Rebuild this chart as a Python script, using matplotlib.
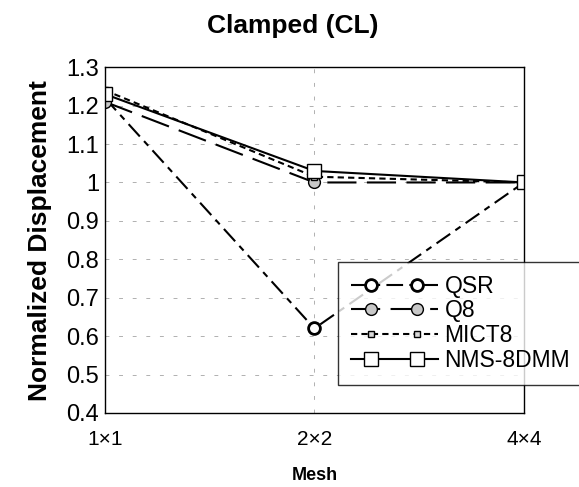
import matplotlib
matplotlib.use("Agg")
import numpy as np
import matplotlib.pyplot as plt
from matplotlib.legend_handler import HandlerLine2DCompound

plt.rcParams['font.family'] = ['Liberation Sans', 'DejaVu Sans']

meshes = ["1\u00d71", "2\u00d72", "4\u00d74"]
qsr = [1.22, 0.62, 1.0]
q8 = [1.21, 1.0, 1.0]
mict8 = [1.24, 1.015, 1.0]
nms = [1.23, 1.03, 1.0]

x = list(range(len(meshes)))


class InsetMarkers(HandlerLine2DCompound):
    # line spans the whole handle, the two markers sit a bit inside it
    def get_xdata(self, legend, xdescent, ydescent, width, height, fontsize):
        pad = 0.9 * fontsize
        xline = np.linspace(-xdescent, -xdescent + width, 2)
        xmark = np.linspace(-xdescent + pad, -xdescent + width - pad, 2)
        return xline, xmark


fig = plt.figure(figsize=(5.79, 4.87), dpi=100)
ax = fig.add_axes([0.181, 0.152, 0.724, 0.710])

ax.plot(x, qsr, color="black", lw=1.5, ls=(0, (8, 3, 3, 3)),
        marker="o", ms=8.5, mfc="white", mec="black", mew=2, label="QSR")
ax.plot(x, q8, color="black", lw=1.5, ls=(0, (14, 5)),
        marker="o", ms=8.5, mfc="#c8c8c8", mec="black", mew=1, label="Q8")
ax.plot(x, mict8, color="black", lw=1.5, ls=(0, (3, 2)),
        marker="s", ms=5, mfc="#d8d8d8", mec="black", mew=1, label="MICT8")
ax.plot(x, nms, color="black", lw=1.5, ls="-",
        marker="s", ms=10, mfc="white", mec="black", mew=1, label="NMS-8DMM")

ax.set_xlim(0, 2)
ax.set_ylim(0.4, 1.3)
ax.set_xticks(x)
ax.set_xticklabels(meshes, fontsize=15)
ax.set_yticks([0.4, 0.5, 0.6, 0.7, 0.8, 0.9, 1.0, 1.1, 1.2, 1.3])
ax.set_yticklabels(["0.4", "0.5", "0.6", "0.7", "0.8", "0.9", "1", "1.1", "1.2", "1.3"], fontsize=17)
ax.tick_params(length=0)
ax.tick_params(axis="y", pad=4)
ax.tick_params(axis="x", pad=12)
ax.grid(True, color="#b0b0b0", lw=0.7, ls=(0, (4, 10)))
ax.set_axisbelow(True)
for s in ax.spines.values():
    s.set_linewidth(1.0)

fig.text(293 / 579, 1 - 26 / 487, "Clamped (CL)", fontsize=19, fontweight="bold",
         ha="center", va="center")
ax.set_ylabel("Normalized Displacement", fontsize=19, fontweight="bold", labelpad=10)
ax.set_xlabel("Mesh", fontsize=13, fontweight="bold", labelpad=13)

leg = ax.legend(loc="upper left", bbox_to_anchor=(338 / 579, 1 - 262 / 487),
                bbox_transform=fig.transFigure, fontsize=16.5, handlelength=3.8,
                frameon=True, fancybox=False, edgecolor="black", borderpad=0.55,
                labelspacing=0.08, handletextpad=0.3, borderaxespad=0,
                handler_map={plt.Line2D: InsetMarkers()})
leg.get_frame().set_linewidth(1.0)

fig.savefig("out.png", dpi=100)
